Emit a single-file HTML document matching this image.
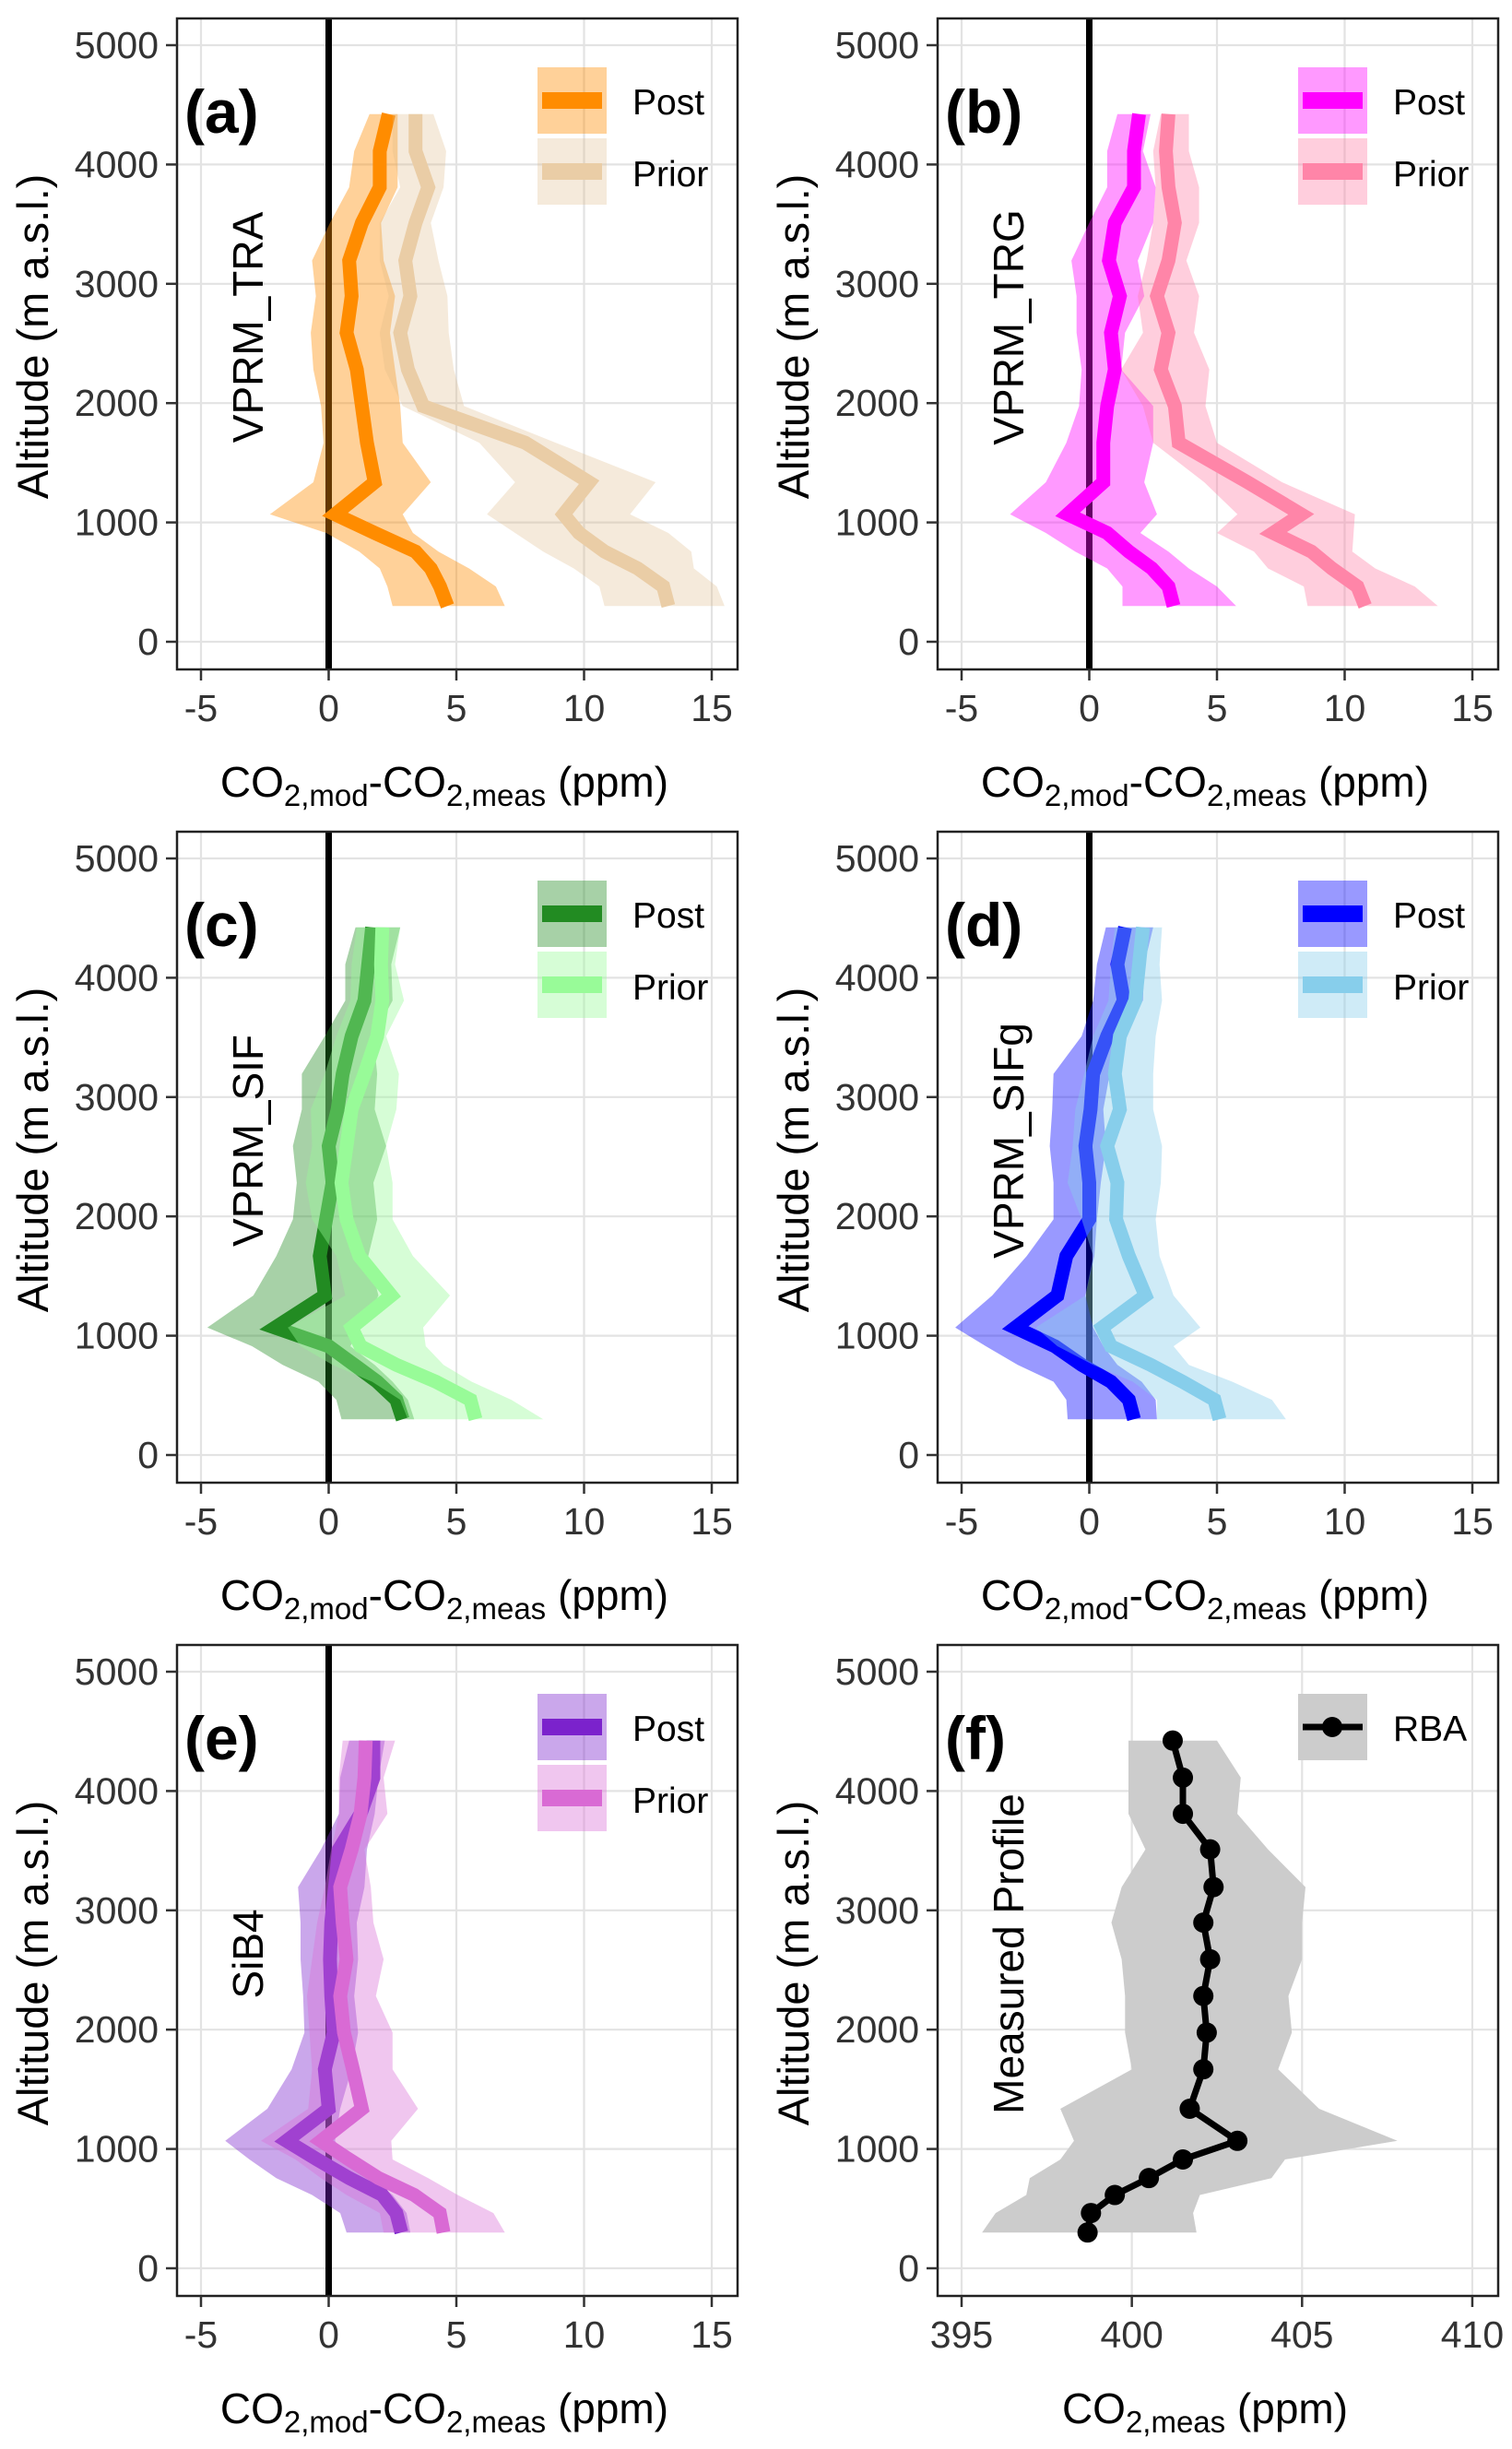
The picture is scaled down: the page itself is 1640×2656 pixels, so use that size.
<!DOCTYPE html>
<html><head><meta charset="utf-8">
<style>
html,body{margin:0;padding:0;background:#fff;}
svg{display:block;font-family:"Liberation Sans",Arial,sans-serif;}
</style></head>
<body>
<svg id="fig" xmlns="http://www.w3.org/2000/svg" width="1640" height="2656" viewBox="0 0 1640 2656"></svg>
<script>
// ---------- data ----------
const altitudes = [300,463,614,756,912,1068,1337,1668,1975,2282,2590,2897,3195,3511,3809,4112,4423];
const yTicks = [0,1000,2000,3000,4000,5000];
const xTicksDiff = [-5,0,5,10,15];
const xTicksMeas = [395,400,405,410];

// (a) VPRM_TRA
const aPost = [4.65,4.36,4.0,3.4,1.8,0.25,1.8,1.5,1.3,1.1,0.7,0.9,0.8,1.3,2.0,2.0,2.35];
const aPostLo = [2.5,2.3,2.0,1.2,-0.1,-2.3,-0.6,-0.2,-0.3,-0.6,-0.7,-0.5,-0.65,0.05,0.8,1.0,1.6];
const aPostHi = [6.9,6.55,5.5,4.3,3.3,2.9,4.0,2.9,2.8,2.6,2.4,2.6,2.15,2.05,2.7,2.7,2.7];
const aPrior = [13.3,13.1,12.1,10.8,9.8,9.2,10.2,7.7,3.7,3.1,2.8,3.2,3.0,3.4,3.9,3.4,3.4];
const aPriorLo = [10.8,10.6,9.6,8.4,7.3,6.2,7.3,5.9,2.9,2.2,2.0,2.35,2.0,2.0,2.8,2.5,2.5];
const aPriorHi = [15.5,15.2,14.3,14.2,13.3,11.8,12.8,8.9,5.3,4.9,4.7,4.65,4.3,4.0,4.5,4.6,4.1];
// (b) VPRM_TRG
const bPost = [3.3,3.1,2.45,1.55,0.7,-0.85,0.55,0.55,0.7,1.0,0.85,1.2,0.77,1.0,1.75,1.75,1.95];
const bPostLo = [1.3,1.3,0.7,-0.55,-1.7,-3.1,-1.7,-0.9,-0.4,-0.3,-0.5,-0.5,-0.7,0,0.7,0.7,1.1];
const bPostHi = [5.75,5.0,3.9,3.1,2.0,2.65,2.15,2.5,2.5,1.25,1.4,2.15,1.9,2.5,2.6,2.1,2.4];
const bPrior = [10.8,10.5,9.5,8.7,7.2,8.3,6.2,3.5,3.35,2.8,3.1,2.65,3.1,3.35,3.1,3.0,3.1];
const bPriorLo = [8.55,8.4,7.0,6.45,5.0,5.8,4.5,2.5,2.1,1.25,2.1,1.9,2.25,2.5,2.6,2.5,2.8];
const bPriorHi = [13.65,12.75,11.2,10.3,10.35,10.4,7.55,5.0,4.55,4.7,4.1,4.3,3.8,4.3,4.3,3.9,3.9];
// (c) VPRM_SIF
const cPost = [2.9,2.65,1.9,1.0,0,-2.1,-0.15,-0.35,-0.1,0.15,0,0.35,0.55,0.9,1.4,1.55,1.7];
const cPostLo = [0.5,0.3,-0.4,-1.8,-3.0,-4.75,-2.95,-2.05,-1.4,-1.25,-1.4,-1.05,-1.05,-0.15,0.65,0.65,1.05];
const cPostHi = [3.35,3.1,2.5,1.8,0.85,1.25,1.95,1.55,1.9,1.75,2.25,1.8,1.9,1.75,2.5,2.45,2.8];
const cPrior = [5.75,5.55,4.2,2.65,1.25,0.9,2.45,1.2,0.7,0.5,0.7,0.9,1.4,1.9,2.1,2.05,2.1];
const cPriorLo = [3.1,2.8,1.7,0.15,-1.1,-1.6,0.65,0.3,-0.65,-0.9,-0.65,-0.7,-0.15,0.3,0.85,0.9,1.1];
const cPriorHi = [8.4,7.15,5.6,4.5,3.8,3.7,4.75,3.3,2.5,2.5,2.25,2.65,2.75,2.25,2.95,2.6,2.8];
// (d) VPRM_SIFg
const dPost = [1.75,1.55,0.85,-0.3,-1.35,-2.9,-1.25,-0.9,0,0,-0.15,0.05,0.15,0.7,1.35,1.1,1.4];
const dPostLo = [-0.85,-0.9,-1.4,-2.8,-4.05,-5.25,-3.8,-2.45,-1.4,-1.4,-1.55,-1.45,-1.4,-0.3,0.15,0.3,0.65];
const dPostHi = [2.65,2.6,2.05,1.1,0.55,0.15,-0.15,0.2,0.3,0.45,0.65,0.55,0.8,1.1,2.1,2.15,2.5];
const dPrior = [5.1,4.9,3.65,2.4,0.85,0.5,2.2,1.55,1.05,1.1,0.7,1.2,1.0,1.2,1.8,1.95,2.1];
const dPriorLo = [2.65,2.65,1.7,0.15,-1.25,-2.1,-0.15,0.15,-0.3,-0.85,-0.65,-0.55,-0.2,0.15,0.75,0.85,1.0];
const dPriorHi = [7.7,7.15,5.6,3.9,3.3,4.35,3.3,2.75,2.6,2.8,2.85,2.5,2.5,2.6,2.85,2.75,2.85];
// (e) SiB4
const ePost = [2.85,2.65,2.1,0.8,-0.45,-1.65,0,-0.15,0.2,0.1,0.05,0.1,0.25,0.4,1.25,1.75,1.75];
const ePostLo = [0.7,0.45,-0.65,-2.05,-3.1,-4.05,-2.4,-1.45,-0.95,-1.0,-1.1,-1.1,-1.2,-0.3,0.4,0.45,0.8];
const ePostHi = [3.2,3.05,2.5,1.65,0.7,0.25,0.45,0.9,1.15,1.0,1.15,1.1,1.4,1.5,1.8,1.95,2.2];
const ePrior = [4.5,4.35,3.35,1.95,0.8,-0.3,1.3,0.95,0.6,0.45,0.7,0.55,0.45,0.9,1.25,1.4,1.45];
const ePriorLo = [2.15,2.0,0.7,-0.3,-1.3,-2.65,-0.8,-0.65,-0.75,-0.85,-0.65,-0.45,-0.15,0.1,0.4,0.4,0.55];
const ePriorHi = [6.9,6.45,5.05,3.9,2.5,2.45,3.5,2.5,2.5,1.85,2.15,1.75,1.65,1.4,2.3,2.15,2.6];
// (f) Measured profile RBA
const fMeas = [398.7,398.8,399.5,400.5,401.5,403.1,401.7,402.1,402.2,402.1,402.3,402.1,402.4,402.3,401.5,401.5,401.2];
const fLo = [395.6,396.0,396.9,397.0,397.9,398.3,397.9,400.0,399.8,399.8,399.7,399.4,399.7,400.4,399.9,399.9,399.9];
const fHi = [401.9,401.8,402.0,404.1,404.5,407.8,405.5,404.3,404.7,404.6,405.0,405.0,405.1,404.0,403.1,403.2,402.5];

// ---------- drawing ----------
const NS = "http://www.w3.org/2000/svg";
const svg = document.getElementById("fig");
function mk(tag, attrs, parent) {
  const e = document.createElementNS(NS, tag);
  for (const k in attrs) e.setAttribute(k, attrs[k]);
  (parent || svg).appendChild(e);
  return e;
}
const BOXW = 608, BOXTOP = 20, BOXH = 706, ROWH = 882;
const colX = [192, 1017];
function yScale(row) { return a => 696 + ROWH * row - a * 0.1294; }
function xScaleDiff(left) { return v => left + 26 + (v + 5) * 27.7; }
function xScaleMeas(left) { return v => left + 26 + (v - 395) * 36.93; }

function bandPts(lo, hi, xs, ys) {
  const p = [];
  for (let i = 0; i < altitudes.length; i++) p.push(xs(hi[i]).toFixed(1) + "," + ys(altitudes[i]).toFixed(1));
  for (let i = altitudes.length - 1; i >= 0; i--) p.push(xs(lo[i]).toFixed(1) + "," + ys(altitudes[i]).toFixed(1));
  return p.join(" ");
}
function linePts(vals, xs, ys) {
  return vals.map((v, i) => xs(v).toFixed(1) + "," + ys(altitudes[i]).toFixed(1)).join(" ");
}

function drawPanel(cfg) {
  const left = colX[cfg.col], row = cfg.row;
  const top = BOXTOP + ROWH * row, bottom = top + BOXH;
  const ys = yScale(row);
  const xs = cfg.meas ? xScaleMeas(left) : xScaleDiff(left);
  const ticks = cfg.meas ? xTicksMeas : xTicksDiff;
  const g = mk("g", {});
  
  
  const clipId = "clip" + cfg.letter;
  const cp = mk("clipPath", {id: clipId}, g);
  mk("rect", {x: left, y: top, width: BOXW, height: BOXH}, cp);
  const grid = mk("g", {stroke: "#e3e3e3", "stroke-width": 2.2}, g);
  
  
  yTicks.forEach(t => mk("line", {x1: left, x2: left + BOXW, y1: ys(t), y2: ys(t)}, grid));
  ticks.forEach(t => mk("line", {x1: xs(t), x2: xs(t), y1: top, y2: bottom}, grid));
  const plot = mk("g", {"clip-path": "url(#" + clipId + ")"}, g);
  if (!cfg.meas) {
    const zl = mk("line", {x1: xs(0), x2: xs(0), y1: top, y2: bottom, stroke: "#000", "stroke-width": 7}, plot);
    
    
    const pb = mk("polygon", {points: bandPts(cfg.postLo, cfg.postHi, xs, ys), fill: cfg.postC, "fill-opacity": 0.4}, plot);
    
    
    const pl = mk("polyline", {points: linePts(cfg.post, xs, ys), fill: "none", stroke: cfg.postC, "stroke-width": 15}, plot);
    
    
    const rb = mk("polygon", {points: bandPts(cfg.priorLo, cfg.priorHi, xs, ys), fill: cfg.priorC, "fill-opacity": cfg.priorBandOp}, plot);
    
    
    const rl = mk("polyline", {points: linePts(cfg.prior, xs, ys), fill: "none", stroke: cfg.priorLineC, "stroke-width": 15}, plot);
    
    
  } else {
    const fb = mk("polygon", {points: bandPts(fLo, fHi, xs, ys), fill: "#cccccc"}, plot);
    
    
    const fl = mk("polyline", {points: linePts(fMeas, xs, ys), fill: "none", stroke: "#000", "stroke-width": 7}, plot);
    
    
    fMeas.forEach((v, i) => {
      const c = mk("circle", {cx: xs(v), cy: ys(altitudes[i]), r: 11, fill: "#000"}, plot);
      
      
    });
  }
  const box = mk("rect", {x: left, y: top, width: BOXW, height: BOXH, fill: "none", stroke: "#222", "stroke-width": 2.5}, g);
  
  
  yTicks.forEach(t => {
    mk("line", {x1: left - 12, x2: left, y1: ys(t), y2: ys(t), stroke: "#333", "stroke-width": 2.5}, g);
    const tx = mk("text", {x: left - 20, y: ys(t) + 14, "text-anchor": "end", "font-size": 41, fill: "#333"}, g);
    tx.textContent = t;
    
    
  });
  ticks.forEach(t => {
    mk("line", {x1: xs(t), x2: xs(t), y1: bottom, y2: bottom + 12, stroke: "#333", "stroke-width": 2.5}, g);
    const tx = mk("text", {x: xs(t), y: bottom + 56, "text-anchor": "middle", "font-size": 41, fill: "#333"}, g);
    tx.textContent = t;
    
    
  });
  const yt = mk("text", {x: 0, y: 0, "text-anchor": "middle", "font-size": 47, fill: "#000",
    transform: "translate(" + (left - 140) + "," + (top + 345) + ") rotate(-90)"}, g);
  yt.textContent = "Altitude (m a.s.l.)";
  
  
  const xt = mk("text", {x: left + 290, y: bottom + 138, "text-anchor": "middle", "font-size": 46, fill: "#000"}, g);
  
  
  if (!cfg.meas) {
    xt.innerHTML = 'CO<tspan font-size="33" dy="10">2,mod</tspan><tspan dy="-10">-CO</tspan><tspan font-size="33" dy="10">2,meas</tspan><tspan dy="-10"> (ppm)</tspan>';
  } else {
    xt.innerHTML = 'CO<tspan font-size="33" dy="10">2,meas</tspan><tspan dy="-10"> (ppm)</tspan>';
  }
  const pl2 = mk("text", {x: left + 8, y: top + 124, "font-size": 66, "font-weight": "bold", fill: "#000"}, g);
  pl2.textContent = "(" + cfg.letter + ")";
  
  
  const sn = mk("text", {x: 0, y: 0, "text-anchor": "middle", "font-size": 46, fill: "#000",
    transform: "translate(" + (left + 93) + "," + (top + 335) + ") rotate(-90)"}, g);
  sn.textContent = cfg.name;
  
  
  const lx = left + 391, ly = top + 53;
  if (!cfg.meas) {
    const k1 = mk("rect", {x: lx, y: ly, width: 75, height: 72, fill: cfg.postC, "fill-opacity": 0.4}, g);
    
    
    mk("rect", {x: lx + 5, y: ly + 27, width: 65, height: 18, fill: cfg.postC}, g);
    const k2 = mk("rect", {x: lx, y: ly + 77, width: 75, height: 72, fill: cfg.priorC, "fill-opacity": cfg.priorBandOp}, g);
    
    
    mk("rect", {x: lx + 5, y: ly + 104, width: 65, height: 18, fill: cfg.priorLineC}, g);
    const t1 = mk("text", {x: lx + 103, y: ly + 51, "font-size": 39, fill: "#000"}, g);
    t1.textContent = "Post";
    
    
    const t2 = mk("text", {x: lx + 103, y: ly + 129, "font-size": 39, fill: "#000"}, g);
    t2.textContent = "Prior";
    
    
  } else {
    const k1 = mk("rect", {x: lx, y: ly, width: 75, height: 72, fill: "#cccccc"}, g);
    
    
    mk("line", {x1: lx + 5, x2: lx + 70, y1: ly + 36, y2: ly + 36, stroke: "#000", "stroke-width": 7}, g);
    mk("circle", {cx: lx + 37, cy: ly + 36, r: 11, fill: "#000"}, g);
    const t1 = mk("text", {x: lx + 103, y: ly + 51, "font-size": 39, fill: "#000"}, g);
    t1.textContent = "RBA";
    
    
  }
}

drawPanel({letter: "a", col: 0, row: 0, name: "VPRM_TRA", post: aPost, postLo: aPostLo, postHi: aPostHi, prior: aPrior, priorLo: aPriorLo, priorHi: aPriorHi, postC: "#FF8C00", priorC: "#DEB887", priorBandOp: 0.3, priorLineC: "#EACDA6"});
drawPanel({letter: "b", col: 1, row: 0, name: "VPRM_TRG", post: bPost, postLo: bPostLo, postHi: bPostHi, prior: bPrior, priorLo: bPriorLo, priorHi: bPriorHi, postC: "#FF00FF", priorC: "#FF7FA6", priorBandOp: 0.38, priorLineC: "#FF85A8"});
drawPanel({letter: "c", col: 0, row: 1, name: "VPRM_SIF", post: cPost, postLo: cPostLo, postHi: cPostHi, prior: cPrior, priorLo: cPriorLo, priorHi: cPriorHi, postC: "#228B22", priorC: "#98FB98", priorBandOp: 0.4, priorLineC: "#98FB98"});
drawPanel({letter: "d", col: 1, row: 1, name: "VPRM_SIFg", post: dPost, postLo: dPostLo, postHi: dPostHi, prior: dPrior, priorLo: dPriorLo, priorHi: dPriorHi, postC: "#0000FF", priorC: "#87CEEB", priorBandOp: 0.4, priorLineC: "#87CEEB"});
drawPanel({letter: "e", col: 0, row: 2, name: "SiB4", post: ePost, postLo: ePostLo, postHi: ePostHi, prior: ePrior, priorLo: ePriorLo, priorHi: ePriorHi, postC: "#7B22CC", priorC: "#DA70D6", priorBandOp: 0.4, priorLineC: "#D96AD4"});
drawPanel({letter: "f", col: 1, row: 2, name: "Measured Profile", meas: true});
</script>
</body></html>
